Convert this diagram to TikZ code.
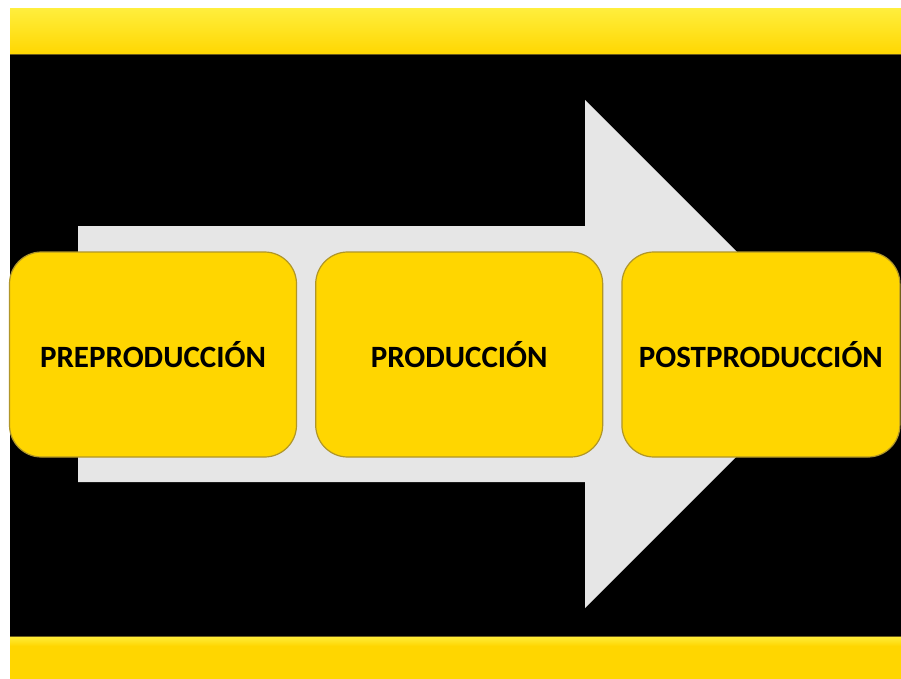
\documentclass[tikz,border=0pt]{standalone}
\usepackage{fontspec}
\setmainfont{Carlito}
\usetikzlibrary{positioning}
\definecolor{pgold}{RGB}{255, 214, 0}
\definecolor{plight}{RGB}{255, 238, 60}
\definecolor{pedge}{RGB}{176, 150, 40}
\definecolor{pgray}{RGB}{230, 230, 230}

\begin{document}
\begin{tikzpicture}[x=1pt, y=-1pt,
  stagebox/.style={rectangle, rounded corners=32pt, draw=pedge, line width=1.2pt,
                   fill=pgold, minimum width=287pt, minimum height=205pt,
                   inner sep=0pt, align=center,
                   font=\fontsize{31}{33}\selectfont\bfseries, text=black},
  band/.style={top color=plight, bottom color=pgold, draw=none}
]

% Page and background
\useasboundingbox (0,0) rectangle (901,679);
\fill[white] (0,0) rectangle (901,679);
\fill[black] (10,55) rectangle (901,636);
\shade[band] (10,9) rectangle (901,55);
\fill[pgold] (10,636) rectangle (901,679);
\shade[top color=plight, bottom color=pgold] (10,636) rectangle (901,646);
\draw[pedge!60!black, line width=1pt] (10,55) -- (901,55);
\draw[pedge!60!black, line width=1pt] (10,636) -- (901,636);

% Big process arrow behind the stages
\fill[pgray] (78,226) -- (585,226) -- (585,100) -- (839,354)
  -- (585,608) -- (585,482) -- (78,482) -- cycle;

% Stages
\node[stagebox] (pre)  at (153,354.5) {PREPRODUCCIÓN};
\node[stagebox, right=18pt of pre] (prod) {PRODUCCIÓN};
\node[stagebox, minimum width=278pt, right=18pt of prod] (post) {POSTPRODUCCIÓN};

\end{tikzpicture}
\end{document}
